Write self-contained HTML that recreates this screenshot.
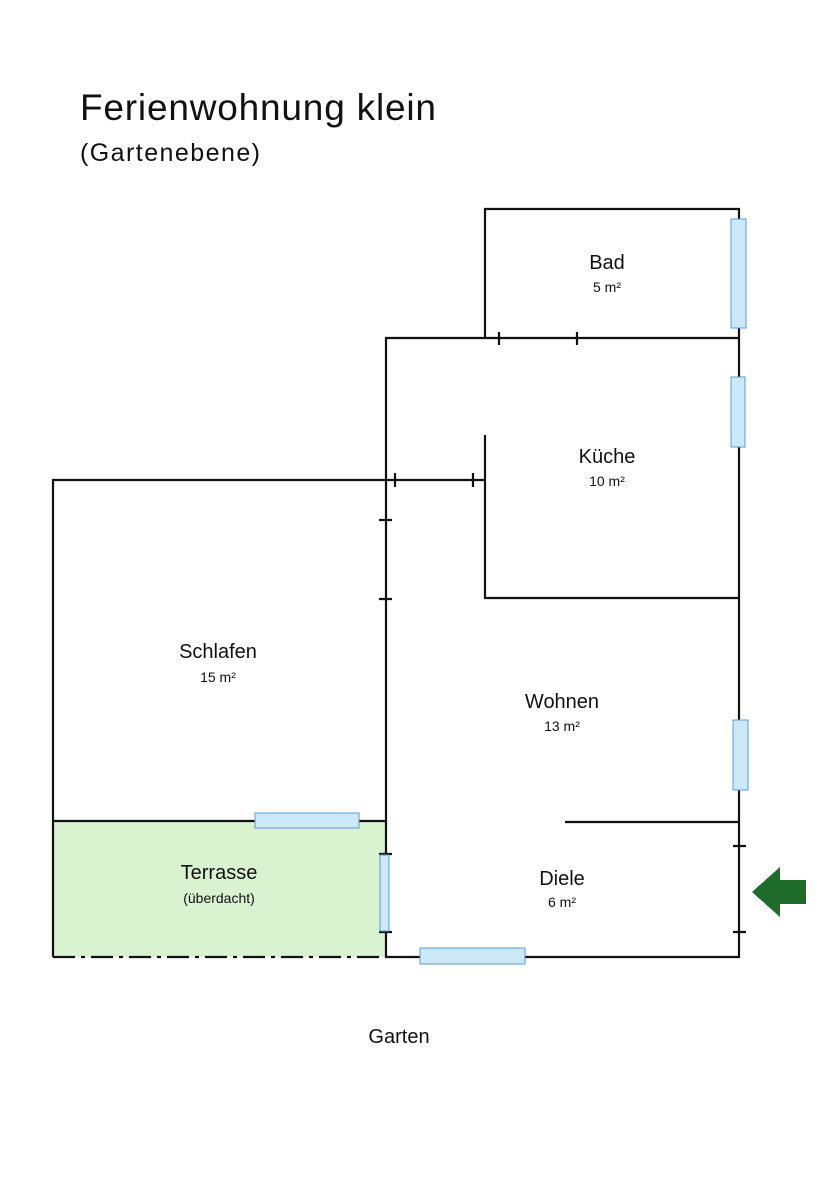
<!DOCTYPE html>
<html><head><meta charset="utf-8"><style>
html,body{margin:0;padding:0;background:#fff}
svg{display:block}
text{font-family:"Liberation Sans",sans-serif;fill:#111}
</style></head><body>
<svg width="831" height="1200" viewBox="0 0 831 1200" xmlns="http://www.w3.org/2000/svg">
<text x="80" y="120" font-size="37" textLength="356" lengthAdjust="spacing">Ferienwohnung klein</text>
<text x="80" y="161" font-size="25" textLength="180" lengthAdjust="spacing">(Gartenebene)</text>
<rect x="53" y="821" width="333" height="136" fill="#d9f2d0"/>
<g stroke="#111" stroke-width="2.2" fill="none">
<path d="M485 338V209H739V957H386V338H739"/>
<path d="M53 957V480H485"/>
<path d="M485 435V598H739"/>
<path d="M53 821H386"/>
<path d="M565 822H739"/>
<path d="M53 957H386" stroke-dasharray="22,6,4,6"/>
<path d="M499 332V345M577 332V345M395 473V487M473 473V487M379 520H392M379 599H392M379 854H392M379 932H392M733 846H746M733 932H746"/>
</g>
<g fill="#cce9f9" stroke="#5b9bd5" stroke-width="1">
<rect x="731" y="219" width="15" height="109"/>
<rect x="731" y="377" width="14" height="70"/>
<rect x="733" y="720" width="15" height="70"/>
<rect x="255" y="813" width="104" height="15"/>
<rect x="380" y="855" width="9" height="76"/>
<rect x="420" y="948" width="105" height="16"/>
</g>
<polygon points="752,892 780,867 780,880 806,880 806,904 780,904 780,917" fill="#1e6b2a"/>
<g text-anchor="middle">
<text x="607" y="269" font-size="20">Bad</text>
<text x="607" y="292" font-size="14">5 m²</text>
<text x="607" y="463" font-size="20">Küche</text>
<text x="607" y="486" font-size="14">10 m²</text>
<text x="218" y="658" font-size="20">Schlafen</text>
<text x="218" y="682" font-size="14">15 m²</text>
<text x="562" y="708" font-size="20">Wohnen</text>
<text x="562" y="731" font-size="14">13 m²</text>
<text x="562" y="885" font-size="20">Diele</text>
<text x="562" y="907" font-size="14">6 m²</text>
<text x="219" y="879" font-size="20">Terrasse</text>
<text x="219" y="903" font-size="14">(überdacht)</text>
<text x="399" y="1043" font-size="20">Garten</text>
</g>
</svg>
</body></html>
